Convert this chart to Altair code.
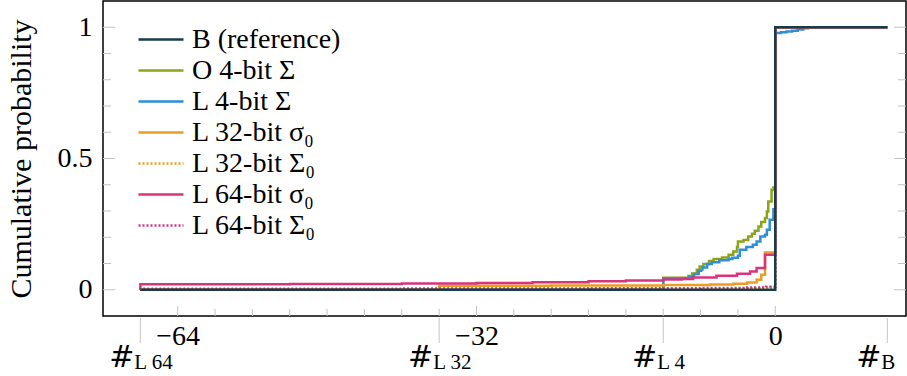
import altair as alt
import pandas as pd

# --- series (step CDFs: value holds from x[i] until x[i+1]) ---------------
series_names = [
    "B (reference)",
    "O 4-bit Σ",
    "L 4-bit Σ",
    "L 32-bit σ₀",
    "L 32-bit Σ₀",
    "L 64-bit σ₀",
    "L 64-bit Σ₀",
]
series_colors = ["#163e4a", "#8ea31a", "#2e8fd8", "#eb9c22", "#eb9c22", "#d8337f", "#d8337f"]
series_dash = [[1, 0], [1, 0], [1, 0], [1, 0], [2, 2], [1, 0], [2, 2]]

b_x = [-68, 0, 12]
b_y = [0, 1, 1]

o4_x = [-68, -12, -9.3, -8.9, -8.4, -8.1, -7.7, -7.1, -6.6, -5.7, -5.0, -4.5, -4.1, -4.0,
        -3.4, -2.9, -2.5, -2.2, -1.8, -1.5, -1.1, -0.9, -0.75, -0.4, -0.2, 0, 12]
o4_y = [0, 0.046, 0.052, 0.062, 0.076, 0.089, 0.098, 0.11, 0.117, 0.123, 0.133, 0.146, 0.163, 0.184,
        0.19, 0.203, 0.213, 0.225, 0.241, 0.258, 0.273, 0.298, 0.336, 0.381, 0.39, 1, 1]

l4_x = [-68, -12, -9.2, -8.7, -8.2, -7.8, -7.3, -6.8, -6.0, -5.0, -4.6, -4.0, -3.8, -3.1,
        -2.4, -2.0, -1.6, -1.1, -0.9, -0.6, -0.2, 0, 0.6, 1.2, 1.8, 2.4, 3.0, 3.5, 12]
l4_y = [0, 0.044, 0.05, 0.06, 0.072, 0.085, 0.098, 0.105, 0.112, 0.117, 0.122, 0.13, 0.152, 0.163,
        0.171, 0.184, 0.203, 0.21, 0.229, 0.267, 0.307, 0.978, 0.981, 0.984, 0.987, 0.991, 0.996, 1, 1]

l32s_x = [-68, -36, -24, -12, -7, -4.5, -3, -2, -1.5, -1.1, 0, 12]
l32s_y = [0, 0.015, 0.016, 0.018, 0.02, 0.023, 0.028, 0.038, 0.057, 0.142, 1, 1]

l32S_x = [-68, -36, -12, -4, -1.5, -0.5, 0, 12]
l32S_y = [0, 0.003, 0.004, 0.006, 0.008, 0.01, 1, 1]

l64s_x = [-68, -68, -52, -40, -32, -26, -20, -16, -12, -10, -8.8, -6.3, -4.1, -2.7, -2.0, -1.1, 0, 12]
l64s_y = [0, 0.021, 0.022, 0.024, 0.026, 0.029, 0.032, 0.035, 0.039, 0.041, 0.047, 0.053, 0.061,
          0.07, 0.083, 0.133, 1, 1]

l64S_x = [-68, -68, -40, -20, -8, -3, -1, 0, 12]
l64S_y = [0, 0.004, 0.005, 0.006, 0.007, 0.009, 0.011, 1, 1]

series_points = {
    "B (reference)": (b_x, b_y),
    "O 4-bit Σ": (o4_x, o4_y),
    "L 4-bit Σ": (l4_x, l4_y),
    "L 32-bit σ₀": (l32s_x, l32s_y),
    "L 32-bit Σ₀": (l32S_x, l32S_y),
    "L 64-bit σ₀": (l64s_x, l64s_y),
    "L 64-bit Σ₀": (l64S_x, l64S_y),
}
# stacking order of the curves (last is drawn on top)
draw_order = ["O 4-bit Σ", "L 4-bit Σ", "L 32-bit σ₀", "L 64-bit σ₀",
              "L 32-bit Σ₀", "L 64-bit Σ₀", "B (reference)"]

# --- axis ticks and labels --------------------------------------------------
y_major = [0, 0.5, 1]
y_minor = [0.1, 0.2, 0.3, 0.4, 0.6, 0.7, 0.8, 0.9]
x_major = [-64, -32, 0]
x_major_labels = ["−64", "−32", "0"]
x_minor = [-60, -56, -52, -48, -44, -40, -36, -28, -24, -20, -16, -12, -8, -4]
mark_ticks = [-68, -36, -12, 12]
mark_sub = ["L 64", "L 32", "L 4", "B"]

W, H = 803, 315
FONT = "Liberation Serif, serif"
TICK_GRAY = "#c4c4c4"

rows = []
for k, name in enumerate(draw_order):
    xs, ys = series_points[name]
    for i, (x, y) in enumerate(zip(xs, ys)):
        rows.append({"series": name, "x": x, "p": y, "k": k, "i": i})
df = pd.DataFrame(rows)

xscale = alt.Scale(domain=[-72, 14], nice=False, zero=False)
yscale = alt.Scale(domain=[-0.1, 1.1], nice=False, zero=False)

label_map = "{" + ", ".join(f"'{v}': '{t}'" for v, t in zip(x_major, x_major_labels)) + "}"

x_axis = alt.Axis(
    values=x_major, labelExpr=f"{label_map}[datum.value + '']", ticks=False, domain=False,
    grid=False, labelFont=FONT, labelFontSize=28, labelColor="#000", labelPadding=6,
    labelFlush=False, title=None)
y_axis = alt.Axis(
    values=y_major, labelExpr="datum.value == 0.5 ? '0.5' : datum.value + ''", ticks=False,
    domain=False, grid=False, labelFont=FONT, labelFontSize=28, labelColor="#000",
    labelPadding=11, title="Cumulative probability", titleFont=FONT, titleFontSize=30,
    titleFontWeight="normal", titleColor="#000", titlePadding=21)

# a wide horizontal stroke as the legend swatch
legend_style = dict(title=None, orient="none", legendX=41.5, legendY=22,
                    symbolType="M-1.5,0H1.5", symbolSize=900, symbolStrokeWidth=2.4,
                    symbolFillColor="transparent",
                    labelFont=FONT, labelFontSize=28, labelColor="#000",
                    labelOffset=14.5, labelLimit=400, rowPadding=-0.3, padding=0)

lines = alt.Chart(df).mark_line(interpolate="step-after", strokeWidth=2.5, clip=True).encode(
    x=alt.X("x:Q", scale=xscale, axis=x_axis),
    y=alt.Y("p:Q", scale=yscale, axis=y_axis),
    color=alt.Color("series:N", scale=alt.Scale(domain=series_names, range=series_colors),
                    legend=alt.Legend(**legend_style)),
    strokeDash=alt.StrokeDash("series:N", scale=alt.Scale(domain=series_names, range=series_dash),
                              legend=alt.Legend(**legend_style)),
    detail="k:O",
    order="i:Q",
)

ydf_major = pd.DataFrame({"v": y_major})
ydf_minor = pd.DataFrame({"v": y_minor})
xdf_major = pd.DataFrame({"v": x_major})
xdf_minor = pd.DataFrame({"v": x_minor})
mdf = pd.DataFrame({"v": mark_ticks, "sub": mark_sub})


def yticks(data, length):
    base = alt.Chart(data).mark_rule(color=TICK_GRAY, strokeWidth=1)
    yenc = alt.Y("v:Q", scale=yscale, axis=y_axis)
    left = base.encode(y=yenc, x=alt.value(0), x2=alt.value(length))
    right = base.encode(y=yenc, x=alt.value(W), x2=alt.value(W - length))
    return [left, right]


def xticks(data, length):
    return alt.Chart(data).mark_rule(color=TICK_GRAY, strokeWidth=1).encode(
        x=alt.X("v:Q", scale=xscale, axis=x_axis), y=alt.value(H), y2=alt.value(H - length))


mark_rules = alt.Chart(mdf).mark_rule(color=TICK_GRAY, strokeWidth=1).encode(
    x=alt.X("v:Q", scale=xscale, axis=x_axis), y=alt.value(H + 2), y2=alt.value(H + 27))
hash_text = alt.Chart(mdf).mark_text(
    text="#", font="DejaVu Sans", fontSize=30, align="right", baseline="alphabetic",
    dx=-6, color="#000").encode(x=alt.X("v:Q", scale=xscale, axis=x_axis), y=alt.value(H + 51))
sub_text = alt.Chart(mdf).mark_text(
    font=FONT, fontSize=21, align="left", baseline="alphabetic", dx=-6,
    color="#000").encode(
    x=alt.X("v:Q", scale=xscale, axis=x_axis), y=alt.value(H + 53), text="sub:N")

chart = alt.layer(
    lines,
    *yticks(ydf_major, 12), *yticks(ydf_minor, 8),
    xticks(xdf_major, 10), xticks(xdf_minor, 7),
    mark_rules, hash_text, sub_text,
).properties(
    width=W, height=H,
    background="white",
    autosize=alt.AutoSizeParams(type="none"),
    padding={"left": 103, "top": 1, "right": 1, "bottom": 60},
).configure_view(stroke="#000", strokeWidth=1.5)

chart.save("out.html", embed_options={"renderer": "svg", "actions": False})
